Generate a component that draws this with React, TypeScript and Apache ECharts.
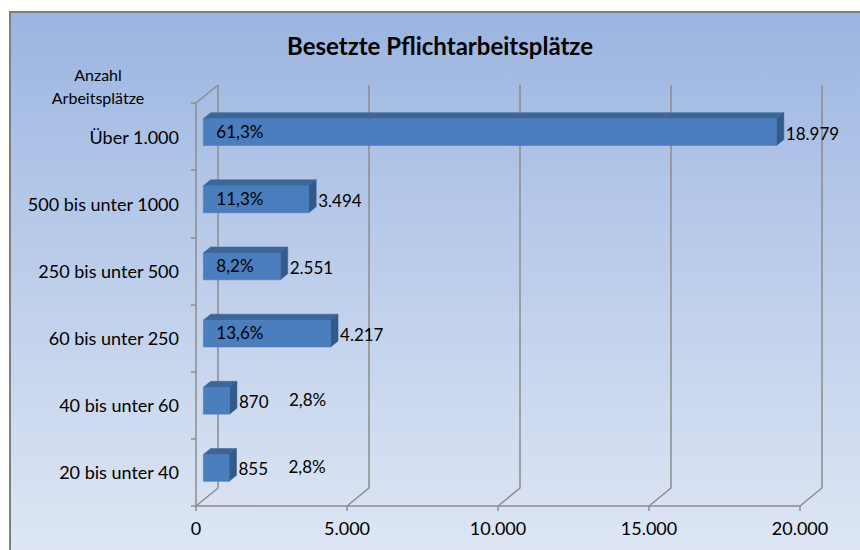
import React, { useEffect, useRef } from "react";
import * as echarts from "echarts";

const categories = [
  "Über 1.000",
  "500 bis unter 1000",
  "250 bis unter 500",
  "60 bis unter 250",
  "40 bis unter 60",
  "20 bis unter 40",
];
const values = [18979, 3494, 2551, 4217, 870, 855];
const shares = ["61,3%", "11,3%", "8,2%", "13,6%", "2,8%", "2,8%"];
const xTicks = [0, 5000, 10000, 15000, 20000];
const titleText = "Besetzte Pflichtarbeitsplätze";
const axisTitle = "Anzahl\nArbeitsplätze";

const fmt = (n: number) => String(n).replace(/\B(?=(\d{3})+(?!\d))/g, ".");

const DX = 22;
const DY = 18;
const FONT = "Lato, 'Open Sans', sans-serif";
const GRID_COLOR = "#8c8c8c";

export default function App() {
  const ref = useRef<HTMLDivElement>(null);

  useEffect(() => {
    if (!ref.current) return;
    const chart = echarts.init(ref.current, undefined, { renderer: "svg" });

    const option: any = {
      animation: false,
      backgroundColor: "transparent",
      textStyle: { fontFamily: FONT },
      title: {
        text: titleText,
        left: 435,
        textAlign: "center",
        top: 28,
        textStyle: { fontFamily: FONT, fontWeight: "bold", fontSize: 24, color: "#000" },
      },
      graphic: [
        {
          type: "text",
          x: 98,
          y: 63,
          style: {
            text: axisTitle,
            fontFamily: FONT,
            fontSize: 16,
            lineHeight: 23,
            fill: "#000",
            align: "center",
          },
        },
      ],
      grid: { left: 196, right: 60, top: 103, bottom: 44, containLabel: false },
      xAxis: {
        type: "value",
        min: 0,
        max: 20000,
        interval: 5000,
        axisLine: { show: true, lineStyle: { color: GRID_COLOR, width: 1.5 } },
        axisTick: { show: true, length: 5, lineStyle: { color: GRID_COLOR, width: 1.5 } },
        splitLine: { show: false },
        axisLabel: {
          formatter: (v: number) => fmt(v),
          color: "#000",
          fontFamily: FONT,
          fontSize: 18,
          margin: 13,
        },
      },
      yAxis: {
        type: "category",
        data: categories,
        inverse: true,
        axisLine: { show: true, lineStyle: { color: GRID_COLOR, width: 1.5 } },
        axisTick: { show: true, length: 5, lineStyle: { color: GRID_COLOR, width: 1.5 } },
        axisLabel: { color: "#000", fontFamily: FONT, fontSize: 18, margin: 17 },
        splitLine: { show: false },
      },
      series: [
        {
          type: "custom",
          z: 1,
          silent: true,
          data: xTicks.map((v) => [v, 0]),
          encode: { x: 0, y: 1 },
          renderItem: (params: any, api: any) => {
            const cs = params.coordSys;
            const v = api.value(0);
            const x = api.coord([v, 0])[0];
            const top = cs.y;
            const bottom = cs.y + cs.height;
            const style = { stroke: GRID_COLOR, lineWidth: 1.5, fill: null };
            const children: any[] = [
              {
                type: "polyline",
                shape: {
                  points: [
                    [x, bottom],
                    [x + DX, bottom - DY],
                    [x + DX, top - DY],
                  ],
                },
                style,
              },
            ];
            if (v === 0) {
              children.push({
                type: "line",
                shape: { x1: x, y1: top, x2: x + DX, y2: top - DY },
                style,
              });
            }
            return { type: "group", children };
          },
        },
        {
          type: "custom",
          z: 2,
          data: values.map((v, i) => [v, i]),
          encode: { x: 0, y: 1 },
          renderItem: (params: any, api: any) => {
            const v = api.value(0);
            const idx = api.value(1);
            const start = api.coord([0, idx]);
            const end = api.coord([v, idx]);
            const band = api.size([0, 1])[1];
            const h = band * 0.4;
            const fx = DX / 3;
            const fy = DY / 3;
            const x0 = start[0] + fx;
            const x1 = end[0] + fx;
            const yc = start[1] - fy + 1.5;
            const top = yc - h / 2;
            const bottom = yc + h / 2;
            const bx = DX / 3;
            const by = DY / 3;
            const textStyle = {
              fill: "#000",
              fontFamily: FONT,
              fontSize: 17,
              verticalAlign: "middle",
              align: "left",
            };
            const valueX = x1 + bx + 2;
            const inside = x1 - x0 > 60;
            return {
              type: "group",
              children: [
                {
                  type: "polygon",
                  shape: { points: [[x0, top], [x1, top], [x1 + bx, top - by], [x0 + bx, top - by]] },
                  style: { fill: "#3d6698", stroke: "#3a6293", lineWidth: 0.5 },
                },
                {
                  type: "polygon",
                  shape: { points: [[x1, top], [x1 + bx, top - by], [x1 + bx, bottom - by], [x1, bottom]] },
                  style: { fill: "#325a8a", stroke: "#30578a", lineWidth: 0.5 },
                },
                {
                  type: "rect",
                  shape: { x: x0, y: top, width: x1 - x0, height: h },
                  style: { fill: "#4a7ebd", stroke: "#4779b5", lineWidth: 0.5 },
                },
                {
                  type: "text",
                  style: { ...textStyle, text: fmt(v), x: valueX, y: yc + 1 },
                },
                {
                  type: "text",
                  style: {
                    ...textStyle,
                    text: shares[idx],
                    x: inside ? x0 + 13 : valueX + 50,
                    y: yc - 1,
                  },
                },
              ],
            };
          },
        },
      ],
    };

    chart.setOption(option);
    return () => chart.dispose();
  }, []);

  return (
    <div style={{ position: "fixed", left: 0, top: 0, width: 860, height: 550, background: "#fff", overflow: "hidden" }}>
      <div
        style={{
          position: "absolute",
          left: 9,
          top: 11,
          width: 860,
          height: 550,
          borderLeft: "2px solid #7f7f7f",
          borderTop: "2px solid #7f7f7f",
          background: "linear-gradient(to bottom, #9bb5e1 0%, #b8cae9 40%, #dfe7f4 100%)",
        }}
      />
      <div ref={ref} style={{ position: "absolute", left: 0, top: 0, width: 860, height: 550 }} />
    </div>
  );
}
